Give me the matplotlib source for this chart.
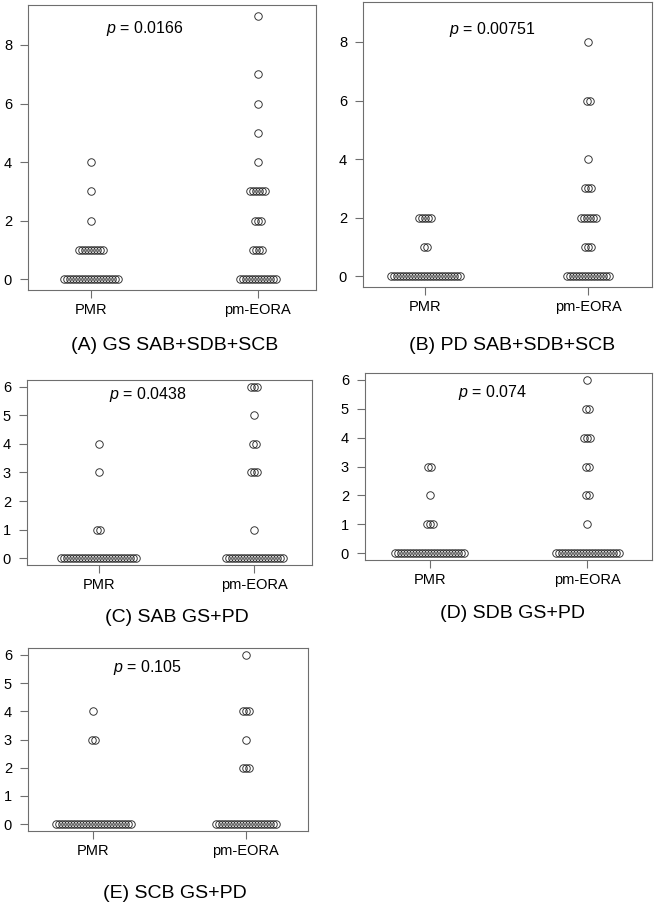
import matplotlib
matplotlib.use("Agg")
import matplotlib.pyplot as plt

plt.rcParams['font.family'] = ['Liberation Sans', 'DejaVu Sans']
plt.rcParams['mathtext.fontset'] = 'custom'
plt.rcParams['mathtext.rm'] = 'Liberation Sans'
plt.rcParams['mathtext.it'] = 'Liberation Sans:italic'

groups = ["PMR", "pm-EORA"]

# (value, count)
A_pmr_vals = [0, 1, 2, 3, 4]
A_pmr_counts = [19, 9, 1, 1, 1]
A_eora_vals = [0, 1, 2, 3, 4, 5, 6, 7, 9]
A_eora_counts = [13, 4, 3, 6, 1, 1, 1, 1, 1]

B_pmr_vals = [0, 1, 2]
B_pmr_counts = [24, 2, 5]
B_eora_vals = [0, 1, 2, 3, 4, 6, 8]
B_eora_counts = [15, 3, 6, 3, 1, 2, 1]

C_pmr_vals = [0, 1, 3, 4]
C_pmr_counts = [26, 2, 1, 1]
C_eora_vals = [0, 1, 3, 4, 5, 6]
C_eora_counts = [20, 1, 3, 2, 1, 3]

D_pmr_vals = [0, 1, 2, 3]
D_pmr_counts = [24, 3, 1, 2]
D_eora_vals = [0, 1, 2, 3, 4, 5, 6]
D_eora_counts = [22, 1, 2, 2, 3, 2, 1]

E_pmr_vals = [0, 3, 4]
E_pmr_counts = [26, 2, 1]
E_eora_vals = [0, 2, 3, 4, 6]
E_eora_counts = [21, 3, 1, 3, 1]

p_texts = ["0.0166", "0.00751", "0.0438", "0.074", "0.105"]
titles = ["(A) GS SAB+SDB+SCB", "(B) PD SAB+SDB+SCB",
          "(C) SAB GS+PD", "(D) SDB GS+PD", "(E) SCB GS+PD"]

W, H = 656, 906
fig = plt.figure(figsize=(W / 100, H / 100), dpi=100)

# pixel boxes: left, right, top, bottom
boxes = [(28, 316, 5, 290), (363, 652, 2, 287), (27, 312, 380, 565),
         (365, 652, 373, 560), (28, 308, 648, 831)]
xlims = [(0.62, 2.35), (0.62, 2.39), (0.54, 2.37), (0.59, 2.41), (0.57, 2.41)]
ylims = [(-0.36, 9.36), (-0.36, 9.36), (-0.24, 6.24), (-0.24, 6.24), (-0.24, 6.24)]
yticks = [[0, 2, 4, 6, 8], [0, 2, 4, 6, 8], range(7), range(7), range(7)]
p_pos = [(0.406, 0.919), (0.446, 0.905), (0.425, 0.919), (0.446, 0.898), (0.425, 0.896)]
title_pos = [(175, 345), (512, 345), (177, 618), (512, 613), (175, 893)]

panels = [
    [(A_pmr_vals, A_pmr_counts), (A_eora_vals, A_eora_counts)],
    [(B_pmr_vals, B_pmr_counts), (B_eora_vals, B_eora_counts)],
    [(C_pmr_vals, C_pmr_counts), (C_eora_vals, C_eora_counts)],
    [(D_pmr_vals, D_pmr_counts), (D_eora_vals, D_eora_counts)],
    [(E_pmr_vals, E_pmr_counts), (E_eora_vals, E_eora_counts)],
]

step_px = 3.0
edge = "#6e6e6e"

for k, panel in enumerate(panels):
    l, r, t, b = boxes[k]
    ax = fig.add_axes([l / W, 1 - b / H, (r - l) / W, (b - t) / H])
    ax.set_xlim(*xlims[k])
    ax.set_ylim(*ylims[k])
    step = step_px * (xlims[k][1] - xlims[k][0]) / (r - l)
    for g, (vals, counts) in enumerate(panel):
        xs, ys = [], []
        for v, n in zip(vals, counts):
            for i in range(n):
                xs.append(g + 1 + (i - (n - 1) / 2) * step)
                ys.append(v)
        ax.plot(xs, ys, 'o', ms=5.4, mfc='none', mec='#2a2a2a', mew=0.65)
    ax.set_xticks([1, 2])
    ax.set_xticklabels(groups)
    ax.set_yticks(list(yticks[k]))
    ax.tick_params(axis='both', length=5.5, width=0.8, color=edge, labelsize=10.5)
    ax.tick_params(axis='x', pad=4)
    ax.tick_params(axis='y', pad=6)
    for s in ax.spines.values():
        s.set_color(edge)
        s.set_linewidth(0.8)
    ax.text(p_pos[k][0], p_pos[k][1], r"$p$ = " + p_texts[k], transform=ax.transAxes,
            ha='center', va='center', fontsize=11.5)
    tx, ty = title_pos[k]
    fig.text(tx / W, 1 - ty / H, titles[k], ha='center', va='center', fontsize=14)

fig.savefig("out.png", dpi=100)
